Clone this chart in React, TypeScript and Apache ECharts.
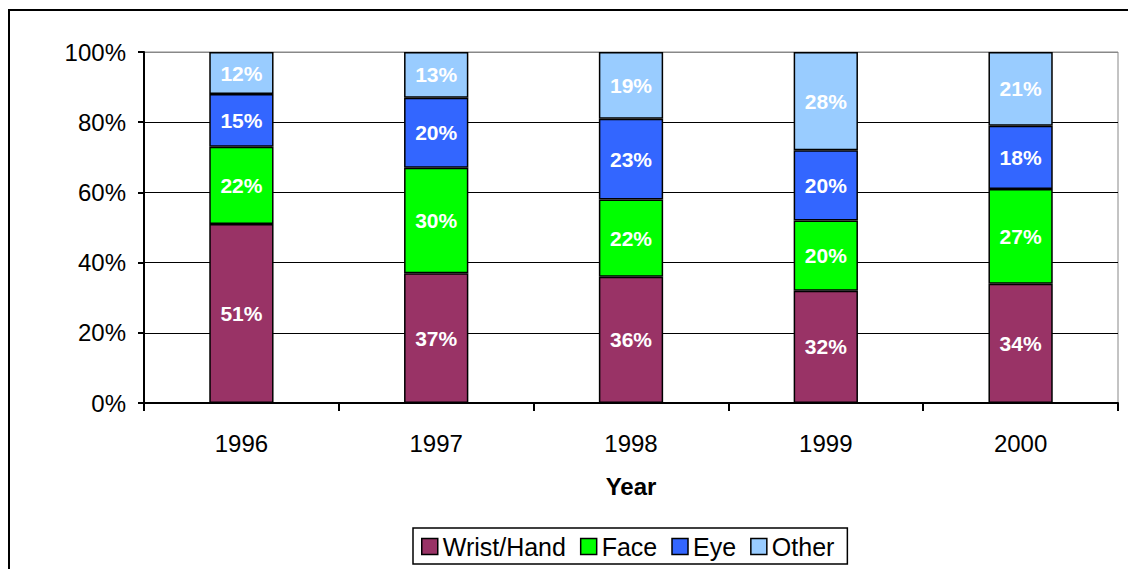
import React, { useEffect, useRef } from "react";
import * as echarts from "echarts";

const years = ["1996", "1997", "1998", "1999", "2000"];
const wristHand = [51, 37, 36, 32, 34];
const face = [22, 30, 22, 20, 27];
const eye = [15, 20, 23, 20, 18];
const other = [12, 13, 19, 28, 21];
const yTicks = [0, 20, 40, 60, 80, 100];

const seriesDefs = [
  { name: "Wrist/Hand", data: wristHand, color: "#993366" },
  { name: "Face", data: face, color: "#00FF00" },
  { name: "Eye", data: eye, color: "#3366FF" },
  { name: "Other", data: other, color: "#99CCFF" },
];

export default function App() {
  const ref = useRef<HTMLDivElement>(null);
  useEffect(() => {
    document.body.style.margin = "0";
    const chart = echarts.init(ref.current!, null, { renderer: "svg" });
    const font = "'Liberation Sans', Arial, sans-serif";
    chart.setOption({
      animation: false,
      backgroundColor: "#fff",
      textStyle: { fontFamily: font },
      graphic: [
        {
          type: "rect",
          shape: { x: 9, y: 10, width: 1130, height: 580 },
          style: { fill: "none", stroke: "#000", lineWidth: 2 },
          silent: true,
          z: -1,
        },
      ],
      grid: {
        left: 144,
        right: 10,
        top: 52,
        bottom: 166,
        show: true,
        borderColor: "#888",
        borderWidth: 1,
      },
      legend: {
        left: 413,
        top: 528,
        data: seriesDefs.map((s) => s.name),
        icon: "rect",
        itemWidth: 16,
        itemHeight: 16,
        itemGap: 14,
        padding: [6, 13, 5, 8],
        borderColor: "#000",
        borderWidth: 1.5,
        borderRadius: 0,
        textStyle: { fontSize: 25, color: "#000", fontFamily: font },
        itemStyle: { borderColor: "#000", borderWidth: 1.5 },
      },
      xAxis: {
        type: "category",
        data: years,
        name: "Year",
        nameLocation: "middle",
        nameGap: 71,
        nameTextStyle: { fontSize: 24, fontWeight: "bold", color: "#000", fontFamily: font },
        axisLine: { lineStyle: { color: "#000", width: 2 } },
        axisTick: { show: true, length: 8, lineStyle: { color: "#000", width: 2 } },
        axisLabel: { fontSize: 24, color: "#000", margin: 28, fontFamily: font },
      },
      yAxis: {
        type: "value",
        min: 0,
        max: 100,
        interval: 20,
        axisLine: { show: true, lineStyle: { color: "#000", width: 2 } },
        axisTick: { show: true, length: 6, lineStyle: { color: "#000", width: 2 } },
        axisLabel: {
          fontSize: 24,
          color: "#000",
          margin: 18,
          fontFamily: font,
          formatter: (v: number) => (yTicks.includes(v) ? v + "%" : ""),
        },
        splitLine: {
          show: true,
          lineStyle: { color: ["#000", "#000", "#000", "#000", "#000", "#888"], width: 1.2 },
        },
      },
      series: seriesDefs.map((s) => ({
        name: s.name,
        type: "bar",
        stack: "total",
        data: s.data,
        barWidth: "33%",
        itemStyle: { color: s.color, borderColor: "#000", borderWidth: 1.5 },
        label: {
          show: true,
          position: "inside",
          formatter: "{c}%",
          color: "#fff",
          fontWeight: "bold",
          fontSize: 21,
          fontFamily: font,
        },
      })),
    });
    return () => chart.dispose();
  }, []);
  return <div ref={ref} style={{ width: 1128, height: 569 }} />;
}
